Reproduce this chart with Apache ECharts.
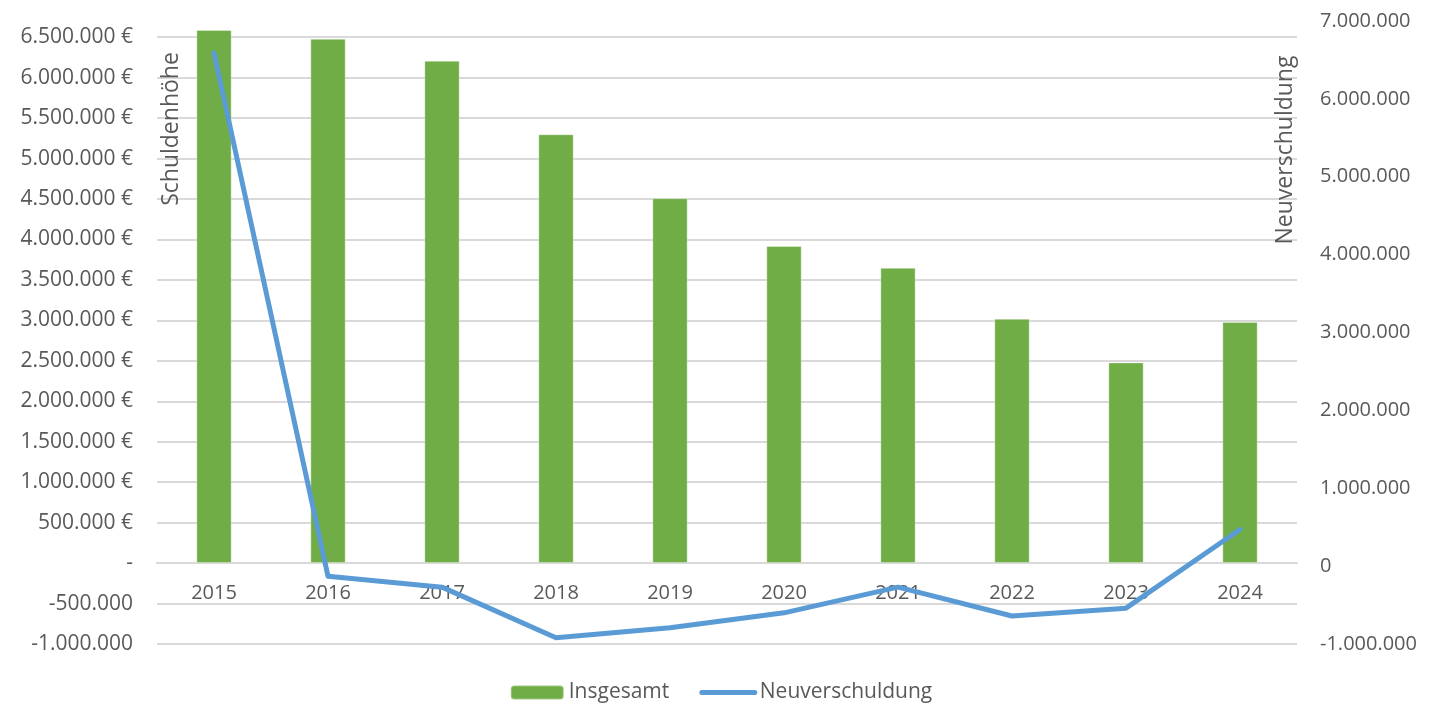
<!DOCTYPE html>
<html>
<head>
<meta charset="utf-8">
<title>Schuldenhöhe und Neuverschuldung</title>
<script src="https://cdn.jsdelivr.net/npm/echarts@6/dist/echarts.min.js"></script>
<style>
	html, body { margin: 0; padding: 0; background: #fff; }
	#chart { width: 1442px; height: 704px; }
</style>
</head>
<body>
<div id="chart"></div>
<script>
// Jahre (x-Achse)
var years = ['2015', '2016', '2017', '2018', '2019', '2020', '2021', '2022', '2023', '2024'];
// Schuldenhöhe insgesamt (linke Achse)
var insgesamt = [6590000, 6480000, 6210000, 5300000, 4510000, 3920000, 3650000, 3020000, 2480000, 2980000];
// Neuverschuldung (rechte Achse)
var neuverschuldung = [6590000, -130000, -270000, -920000, -790000, -600000, -270000, -640000, -540000, 470000];

var textColor = '#595959';
var fontName = '"Open Sans", "Noto Sans", sans-serif';

// linke Achse: Grenzen
var leftMin = -1000000, leftMax = 6700000;
var gridTop = 21, gridBottom = 60, chartHeight = 704;

// Zahl mit Tausenderpunkten
function fmt(v) {
	var s = Math.abs(Math.round(v)).toString().replace(/\B(?=(\d{3})+(?!\d))/g, '.');
	return (v < 0 ? '-' : '') + s;
}

// x-Achse auf die Nulllinie der linken Achse schieben
var plotH = chartHeight - gridTop - gridBottom;
var zeroOffset = -plotH * (0 - leftMin) / (leftMax - leftMin);

var myChart = echarts.init(document.getElementById('chart'));
var option = {
	textStyle: { fontFamily: fontName },
	animation: false,
	grid: { left: 157, right: 145, top: gridTop, bottom: gridBottom, containLabel: false },
	legend: {
		top: 677,
		left: 'center',
		itemWidth: 53,
		itemHeight: 14,
		itemGap: 30,
		textStyle: { color: textColor, fontSize: 21, fontFamily: fontName },
		data: [
			{ name: 'Insgesamt' },
			{ name: 'Neuverschuldung', itemStyle: { opacity: 0 }, lineStyle: { width: 5, cap: 'round', color: '#5b9bd5' } }
		]
	},
	xAxis: {
		type: 'category',
		data: years,
		offset: zeroOffset,
		axisLine: { onZero: false, lineStyle: { color: '#d9d9d9', width: 2 } },
		axisTick: { show: false },
		axisLabel: { color: textColor, fontSize: 20, margin: 20 }
	},
	yAxis: [
		{
			type: 'value',
			min: leftMin,
			max: leftMax,
			interval: 500000,
			axisLine: { show: false },
			axisTick: { show: false },
			splitLine: { show: true, showMaxLine: false, lineStyle: { color: '#d9d9d9', width: 2 } },
			axisLabel: {
				color: textColor,
				fontSize: 21,
				margin: 24,
				showMaxLabel: false,
				formatter: function(v) {
					if (v === 0) return '-';
					if (v < 0) return fmt(v);
					return fmt(v) + ' €';
				}
			}
		},
		{
			type: 'value',
			min: -1000000,
			max: 7000000,
			interval: 1000000,
			axisLine: { show: false },
			axisTick: { show: false },
			splitLine: { show: false },
			axisLabel: {
				color: textColor,
				fontSize: 20,
				margin: 23,
				formatter: function(v) { return fmt(v); }
			}
		}
	],
	// Achsentitel
	graphic: [
		{
			type: 'text',
			z: 100,
			x: 171,
			y: 129,
			rotation: Math.PI / 2,
			style: { text: 'Schuldenhöhe', fill: textColor, font: '23px ' + fontName, align: 'center', verticalAlign: 'middle' }
		},
		{
			type: 'text',
			z: 100,
			x: 1285,
			y: 150,
			rotation: Math.PI / 2,
			style: { text: 'Neuverschuldung', fill: textColor, font: '23px ' + fontName, align: 'center', verticalAlign: 'middle' }
		}
	],
	series: [
		{
			name: 'Insgesamt',
			type: 'bar',
			yAxisIndex: 0,
			barWidth: '31%',
			data: insgesamt,
			itemStyle: { color: '#70ad47', borderColor: 'rgba(255,255,255,0.35)', borderWidth: 1 }
		},
		{
			name: 'Neuverschuldung',
			type: 'line',
			yAxisIndex: 1,
			data: neuverschuldung,
			symbol: 'none',
			z: 5,
			lineStyle: { color: '#5b9bd5', width: 5, cap: 'round', join: 'round' },
			itemStyle: { color: '#5b9bd5' }
		}
	]
};
myChart.setOption(option);
</script>
</body>
</html>
